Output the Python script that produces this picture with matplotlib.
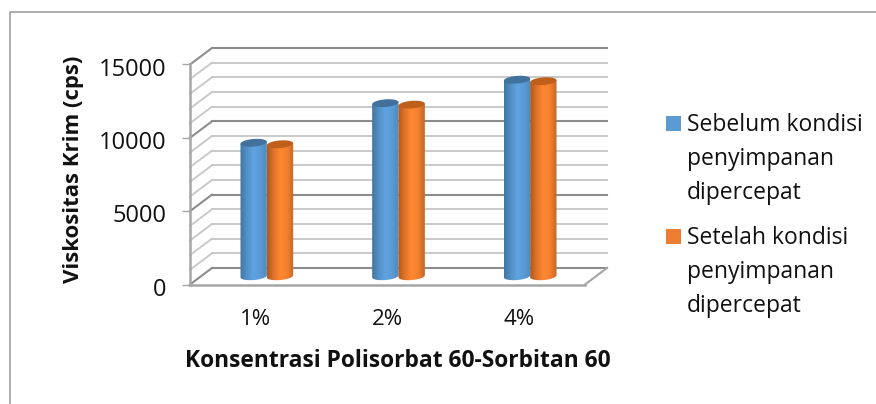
import matplotlib
matplotlib.use('Agg')
import matplotlib.pyplot as plt
import numpy as np
from matplotlib.colors import LinearSegmentedColormap
from matplotlib.patches import Polygon, Rectangle
from matplotlib.transforms import ScaledTranslation

plt.rcParams['font.family'] = ['Open Sans', 'DejaVu Sans']

categories = ['1%', '2%', '4%']
sebelum = [9100, 11800, 13400]
setelah = [9000, 11700, 13300]
legend_sebelum = 'Sebelum kondisi\npenyimpanan\ndipercepat'
legend_setelah = 'Setelah kondisi\npenyimpanan\ndipercepat'
yticks = [0, 5000, 10000, 15000]
grid_values = list(range(0, 16000, 1000))

# depth of the fake 3d box, in data units
DX = 0.167
DY = 1125
BAR_W = 0.2
ELL_H = 260
TILT = 70

blue_cmap = LinearSegmentedColormap.from_list('b', ['#41769F', '#5390C8', '#5FA3E0', '#5B9BD5', '#4F88BC'])
orange_cmap = LinearSegmentedColormap.from_list('o', ['#AD581E', '#E0742A', '#FF8830', '#F58030', '#C46624'])

fig = plt.figure(figsize=(8.76, 4.04), dpi=100)
ax = fig.add_axes([190 / 876, (404 - 284.5) / 404, 395 / 876, 220 / 404])
ax.patch.set_visible(False)

x0, x1 = -0.5, 2.5
for v in grid_values:
    major = v % 5000 == 0
    color = '#8C8C8C' if major else '#C9C9C9'
    lw = 1.5 if major else 1.4
    ax.plot([x0 + DX, x1 + DX], [v + DY, v + DY], color=color, lw=lw, zorder=1, clip_on=False)
    ax.plot([x0, x0 + DX], [v, v + DY], color=color, lw=lw, zorder=1, clip_on=False)
ax.plot([x1, x1 + DX], [0, DY], color='#A6A6A6', lw=1.5, zorder=1, clip_on=False)


def cylinder(xc, value, cmap, top_color):
    left = xc - BAR_W / 2
    t = np.linspace(0, 2 * np.pi, 60)
    ex = BAR_W / 2 * np.cos(t)
    ey = ELL_H * np.sin(t) + TILT * np.cos(t)
    low = np.sin(t) <= 0
    order = np.argsort(ex[low])
    bottom = np.column_stack([xc + ex[low][order], DY / 2 + ey[low][order]])
    top = np.array([[left + BAR_W, value + DY / 2 + TILT], [left, value + DY / 2 - TILT]])
    body = Polygon(np.vstack([bottom, top]), closed=True, facecolor='none', edgecolor='none')
    ax.add_patch(body)
    im = ax.imshow(np.linspace(0, 1, 64).reshape(1, -1), extent=[left, left + BAR_W, -ELL_H, value + DY],
                   aspect='auto', cmap=cmap, zorder=3, interpolation='bilinear')
    im.set_clip_path(body)
    cap = Polygon(np.column_stack([xc + ex, value + DY / 2 + ey]), closed=True, facecolor=top_color,
                  edgecolor='none', zorder=4, clip_on=False)
    ax.add_patch(cap)


for i in range(len(categories)):
    xc = i + DX / 2
    cylinder(xc - BAR_W / 2, sebelum[i], blue_cmap, '#41719C')
    cylinder(xc + BAR_W / 2, setelah[i], orange_cmap, '#BF5F1C')

ax.set_xlim(x0, x1)
ax.set_ylim(0, 15000)

for s in ['top', 'right']:
    ax.spines[s].set_visible(False)
for s in ['left', 'bottom']:
    ax.spines[s].set_color('#A6A6A6')
    ax.spines[s].set_linewidth(1.8)
    ax.spines[s].set_zorder(2)

ax.set_yticks(yticks)
ax.set_xticks(range(len(categories)))
ax.set_xticklabels(categories)
ax.tick_params(axis='y', length=5.8, width=1, color='#A6A6A6', pad=11, labelsize=17, labelcolor='#111111')
ax.tick_params(axis='x', length=0, pad=17.5, labelsize=16, labelcolor='#111111')
# tick numbers sit a little under their ticks in the original
shift = ScaledTranslation(0, -2 / 100, fig.dpi_scale_trans)
for lab in ax.get_yticklabels():
    lab.set_transform(lab.get_transform() + shift)

ax.set_ylabel('Viskositas Krim (cps)', fontsize=15.9, fontweight='bold', color='#111111')
ax.yaxis.set_label_coords((84 - 190) / 395, (284.5 - 169) / 220)
ax.set_xlabel('Konsentrasi Polisorbat 60-Sorbitan 60', fontsize=16.4, fontweight='bold', color='#111111')
ax.xaxis.set_label_coords((398 - 190) / 395, -(361 - 284.5) / 220)
ax.xaxis.label.set_va('center')

# outer frame, only top and left are inside the picture
fig.add_artist(plt.Line2D([10 / 876, 10 / 876, 1], [0, 1 - 12 / 404, 1 - 12 / 404], color='#A0A0A0', lw=1.2))

# legend
for y, color, text in [(116, '#5B9BD5', legend_sebelum), (229, '#ED7D31', legend_setelah)]:
    fig.add_artist(Rectangle((666 / 876, 1 - (y + 15) / 404), 15 / 876, 15 / 404, facecolor=color,
                             edgecolor='none', transform=fig.transFigure))
    fig.text(687 / 876, 1 - (y - 3) / 404, text, fontsize=16.5, color='#111111', va='top', ha='left', linespacing=1.55)

plt.savefig('out.png', dpi=100)
plt.close()
